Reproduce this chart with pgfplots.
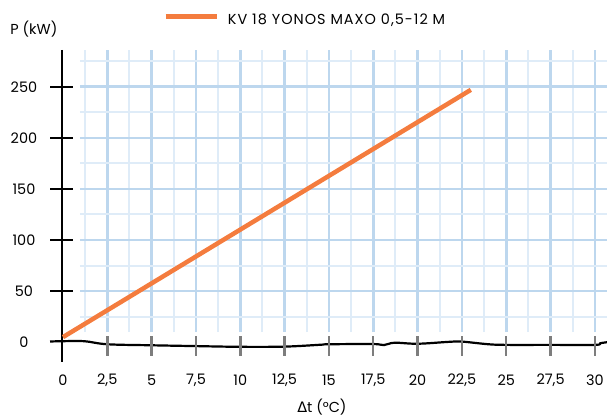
\documentclass[border=0pt]{standalone}
\usepackage{fontspec}
\setmainfont{Poppins}
\newfontfamily\dejavu{DejaVu Sans}
\usepackage{pgfplots}
\pgfplotsset{compat=1.18}
\definecolor{gmaj}{RGB}{189,215,238}
\definecolor{gmin}{RGB}{223,236,248}
\definecolor{kvorange}{RGB}{244,124,62}
\definecolor{tickgray}{RGB}{125,125,125}

\begin{document}
\begin{tikzpicture}[font=\fontsize{14.5}{16}\selectfont]
% picture frame: 607 x 418
\useasboundingbox (-80bp,-86bp) rectangle (527bp,332bp);
\begin{axis}[
	scale only axis,
	width=527bp, height=282bp,
	xmin=0.96, xmax=30.68,
	ymin=10, ymax=286,
	clip=false,
	axis line style={draw=none},
	tick style={draw=none},
	xtick={2.5,5,...,30},
	minor xtick={1.25,3.75,...,28.75},
	ytick={50,100,...,250},
	minor ytick={25,75,...,275},
	xticklabels={}, yticklabels={},
	grid=both,
	major grid style={color=gmaj, line width=2.6bp},
	minor grid style={color=gmin, line width=2bp},
]
	% hand drawn x axis
	\addplot[black, line width=2.2bp, smooth, tension=0.6] coordinates {
		(-0.73,0.7) (0,1) (1.2,1) (2.5,-2) (5,-3) (7.5,-3.8) (10,-4.5)
		(12.5,-4.3) (14.5,-2.5) (15,-2) (17.5,-1.8) (18.1,-2.8) (18.7,-0.5)
		(20,-1.5) (21.8,0.4) (22.5,0.6) (24,-2) (25,-2.6) (27.5,-2.6)
		(30,-2.6) (30.3,-1) (30.68,0)
	};
	\pgfplotsinvokeforeach{2.5,5,7.5,10,12.5,15,17.5,20,22.5,25,27.5,30}{
		\draw[tickgray, line width=2.4bp] (axis cs:#1,6) -- (axis cs:#1,-13.4);
	}
	% y axis
	\draw[black, line width=2.4bp] (axis cs:-0.06,286) -- (axis cs:-0.06,-19.5);
	\pgfplotsinvokeforeach{50,100,150,200,250}{
		\draw[black, line width=2.4bp] (axis cs:-0.73,#1) -- (axis cs:0.56,#1);
		\node at (axis cs:-2.2,#1) {#1};
	}
	\node at (axis cs:-2.2,0) {0};

	% series
	\addplot[kvorange, line width=4.5bp] coordinates {(0,5) (23,247)};

	% x tick labels
	\node at (axis cs:0,-37) {0};
	\node at (axis cs:2.5,-37) {2,5};
	\node at (axis cs:5,-37) {5};
	\node at (axis cs:7.5,-37) {7,5};
	\node at (axis cs:10,-37) {10};
	\node at (axis cs:12.5,-37) {12,5};
	\node at (axis cs:15,-37) {15};
	\node at (axis cs:17.5,-37) {17,5};
	\node at (axis cs:20,-37) {20};
	\node at (axis cs:22.5,-37) {22,5};
	\node at (axis cs:25,-37) {25};
	\node at (axis cs:27.5,-37) {27,5};
	\node at (axis cs:30,-37) {30};

	% axis titles
	\node at (axis cs:-1.64,306.6) {P (kW)};
	\node at (axis cs:14.6,-63.5) {{\dejavu Δ}t (°C)};

	% legend
	\draw[kvorange, line width=4.5bp] (axis cs:5.79,318.7) -- (axis cs:8.67,318.7);
	\node[anchor=west, inner sep=0pt] at (axis cs:9.29,315.4)
		{\addfontfeatures{LetterSpace=7}KV 18 YONOS MAXO 0,5-12 M};
\end{axis}
\end{tikzpicture}
\end{document}
